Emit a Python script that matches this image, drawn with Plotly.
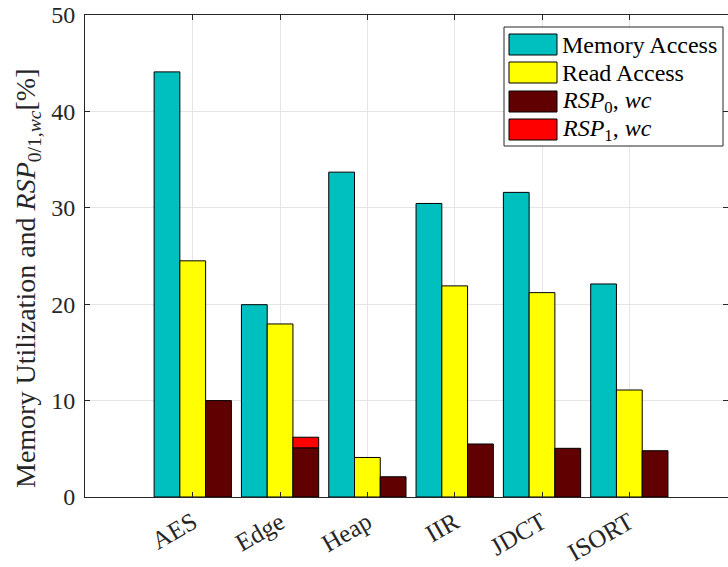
import plotly.graph_objects as go

# Benchmarks and measured utilisation (%)
benchmarks = ["AES", "Edge", "Heap", "IIR", "JDCT", "ISORT"]
memory_access = [44.1, 19.95, 33.7, 30.45, 31.6, 22.1]
read_access = [24.5, 17.95, 4.1, 21.9, 21.2, 11.1]
rsp0_wc = [10.0, 5.1, 2.1, 5.5, 5.05, 4.8]
rsp1_wc = [0.0, 1.1, 0.0, 0.0, 0.0, 0.0]

W, H = 728, 567
L, R, T, B = 85, 0, 15, 70
FONT = "Liberation Serif, Times New Roman, serif"
FS = 24

CYAN = "#00BFBF"
YELLOW = "#FFFF00"
DARKRED = "#600000"
RED = "#FF0000"

xpos = list(range(1, len(benchmarks) + 1))
bw = 0.295

fig = go.Figure()
edge = dict(color="black", width=1)
fig.add_trace(go.Bar(x=xpos, y=memory_access, width=bw, offset=-1.5 * bw,
                     marker=dict(color=CYAN, line=edge), name="Memory Access"))
fig.add_trace(go.Bar(x=xpos, y=read_access, width=bw, offset=-0.5 * bw,
                     marker=dict(color=YELLOW, line=edge), name="Read Access"))
fig.add_trace(go.Bar(x=xpos, y=rsp0_wc, width=bw, offset=0.5 * bw,
                     marker=dict(color=DARKRED, line=edge), name="RSP0,wc"))
# RSP1 stacked on top of RSP0 (only where non-zero)
fig.add_trace(go.Bar(x=xpos, y=[v if v > 0 else None for v in rsp1_wc],
                     base=rsp0_wc, width=bw, offset=0.5 * bw,
                     marker=dict(color=RED, line=edge), name="RSP1,wc"))

axis_common = dict(
    showline=True, linecolor="#262626", linewidth=1, mirror="ticks",
    ticks="inside", ticklen=5, tickcolor="#262626",
    showgrid=True, gridcolor="#E5E5E5", gridwidth=1, zeroline=False,
)

fig.update_layout(
    width=W, height=H,
    margin=dict(l=L, r=R, t=T, b=B),
    paper_bgcolor="white", plot_bgcolor="white",
    barmode="overlay", showlegend=False,
    xaxis=dict(range=[-0.234, 7.13], tickvals=xpos, ticktext=benchmarks,
               tickangle=-30, tickfont=dict(family=FONT, size=25, color="#262626"),
               **axis_common),
    yaxis=dict(range=[0, 50], tickvals=[0, 10, 20, 30, 40, 50],
               ticklabelstandoff=4,
               tickfont=dict(family=FONT, size=FS, color="#262626"),
               **axis_common),
)

# y-axis label
fig.add_annotation(
    xref="paper", yref="paper", x=0, y=0.5, xshift=-58, yshift=-22,
    xanchor="center", yanchor="middle", textangle=-90, showarrow=False,
    text="Memory Utilization and <i>RSP</i><sub>0/1,<i>wc</i></sub>[%]",
    font=dict(family=FONT, size=28, color="#262626"),
)

# Legend box (pixel layout converted to paper coordinates)
pw, ph = W - L - R, H - T - B
def px(x):
    return (x - L) / pw
def py(y):
    return (H - B - y) / ph

fig.add_shape(type="rect", xref="paper", yref="paper",
              x0=px(504), x1=px(723), y0=py(146), y1=py(27),
              line=dict(color="#262626", width=1), fillcolor="white", layer="above")

legend_items = [
    (CYAN, "Memory Access"),
    (YELLOW, "Read Access"),
    (DARKRED, "<i>RSP</i><sub>0</sub>, <i>wc</i>"),
    (RED, "<i>RSP</i><sub>1</sub>, <i>wc</i>"),
]
row_top = [34, 62, 91, 119]
for (col, label), top in zip(legend_items, row_top):
    fig.add_shape(type="rect", xref="paper", yref="paper",
                  x0=px(509), x1=px(557), y0=py(top + 21), y1=py(top),
                  line=dict(color="black", width=1), fillcolor=col, layer="above")
    fig.add_annotation(xref="paper", yref="paper", x=px(560), y=py(top + 10.5),
                       xanchor="left", yanchor="middle", showarrow=False,
                       text=label, font=dict(family=FONT, size=FS, color="black"))

fig.write_html("out.html")
